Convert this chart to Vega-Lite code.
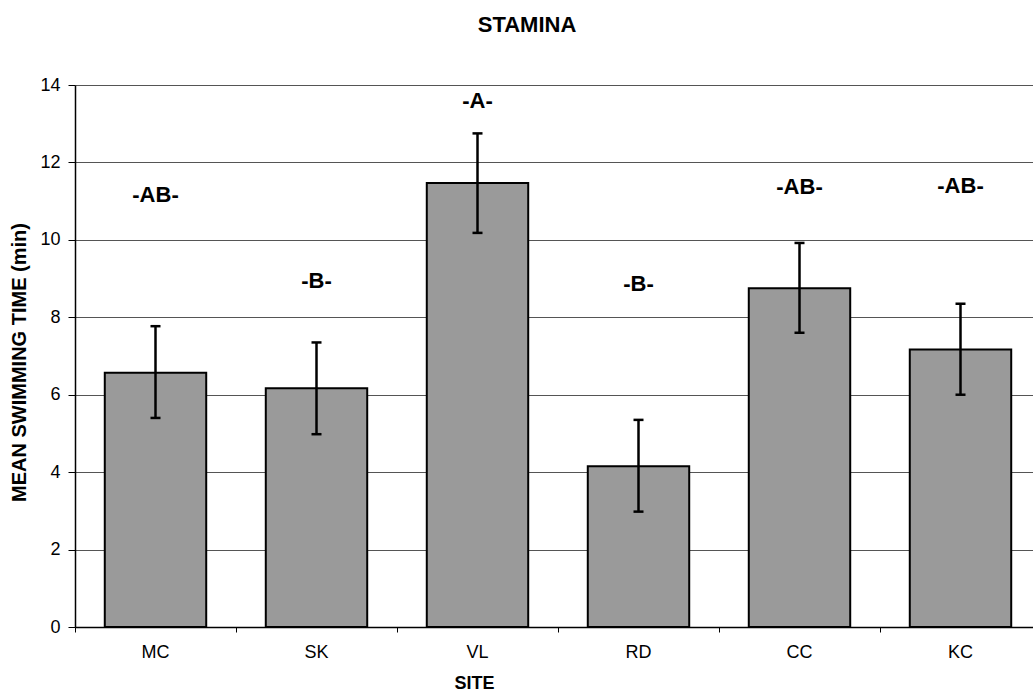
{
  "$schema": "https://vega.github.io/schema/vega-lite/v6.json",
  "autosize": "none",
  "width": 958,
  "height": 542,
  "padding": {"left": 75, "top": 85, "right": 0, "bottom": 70},
  "background": "white",
  "config": {"view": {"stroke": null}, "font": "Liberation Sans"},
  "title": {"text": "STAMINA", "fontSize": 22, "fontWeight": "bold", "font": "Liberation Sans", "color": "black", "anchor": "middle", "frame": "group", "dx": -27, "offset": 39},
  "data": {"values": [
    {"site": "MC", "mean": 6.57, "lo": 5.4, "hi": 7.77, "group": "-AB-", "labelPos": 11.17},
    {"site": "SK", "mean": 6.17, "lo": 4.98, "hi": 7.35, "group": "-B-", "labelPos": 8.95},
    {"site": "VL", "mean": 11.47, "lo": 10.18, "hi": 12.75, "group": "-A-", "labelPos": 13.59},
    {"site": "RD", "mean": 4.15, "lo": 2.98, "hi": 5.35, "group": "-B-", "labelPos": 8.86},
    {"site": "CC", "mean": 8.75, "lo": 7.6, "hi": 9.92, "group": "-AB-", "labelPos": 11.37},
    {"site": "KC", "mean": 7.17, "lo": 6.0, "hi": 8.35, "group": "-AB-", "labelPos": 11.4}
  ]},
  "encoding": {
    "x": {
      "field": "site", "type": "nominal",
      "sort": ["MC", "SK", "VL", "RD", "CC", "KC"],
      "scale": {"range": [0, 966], "paddingInner": 0, "paddingOuter": 0},
      "axis": {
        "title": "SITE", "labelAngle": 0, "bandPosition": 0, "ticks": true,
        "tickColor": "black", "tickSize": 5, "domainColor": "black", "domainWidth": 1.5,
        "labelFontSize": 18, "labelPadding": 11, "labelColor": "black", "labelFont": "Liberation Sans",
        "titleFontSize": 18, "titleFontWeight": "bold", "titleFont": "Liberation Sans", "titleColor": "black",
        "titleX": 399, "titleY": 56, "titleBaseline": "middle", "grid": false
      }
    }
  },
  "layer": [
    {
      "mark": {"type": "bar", "width": {"band": 0.63}, "fill": "#9a9a9a", "stroke": "black", "strokeWidth": 2},
      "encoding": {
        "y": {
          "field": "mean", "type": "quantitative",
          "scale": {"domain": [0, 14]},
          "axis": {
            "title": "MEAN SWIMMING TIME (min)", "values": [0, 2, 4, 6, 8, 10, 12, 14],
            "grid": true, "gridColor": "#555555", "gridWidth": 1,
            "domainColor": "black", "domainWidth": 1.5, "tickColor": "black", "tickSize": 7,
            "labelFontSize": 18, "labelColor": "black", "labelPadding": 8, "labelFont": "Liberation Sans",
            "titleFontSize": 20, "titleFont": "Liberation Sans", "titleFontWeight": "bold", "titleColor": "black",
            "titleX": -56, "titleY": 277, "titleBaseline": "middle", "titleAlign": "center", "titleAngle": -90
          }
        }
      }
    },
    {
      "mark": {"type": "rule", "stroke": "black", "strokeWidth": 2.5},
      "encoding": {"y": {"field": "lo", "type": "quantitative"}, "y2": {"field": "hi"}}
    },
    {
      "mark": {"type": "tick", "color": "black", "thickness": 2.5, "size": 10, "orient": "horizontal", "opacity": 1},
      "encoding": {"y": {"field": "hi", "type": "quantitative"}}
    },
    {
      "mark": {"type": "tick", "color": "black", "thickness": 2.5, "size": 10, "orient": "horizontal", "opacity": 1},
      "encoding": {"y": {"field": "lo", "type": "quantitative"}}
    },
    {
      "mark": {"type": "text", "fontWeight": "bold", "fontSize": 22, "font": "Liberation Sans", "baseline": "middle", "color": "black"},
      "encoding": {"y": {"field": "labelPos", "type": "quantitative"}, "text": {"field": "group"}}
    }
  ]
}
